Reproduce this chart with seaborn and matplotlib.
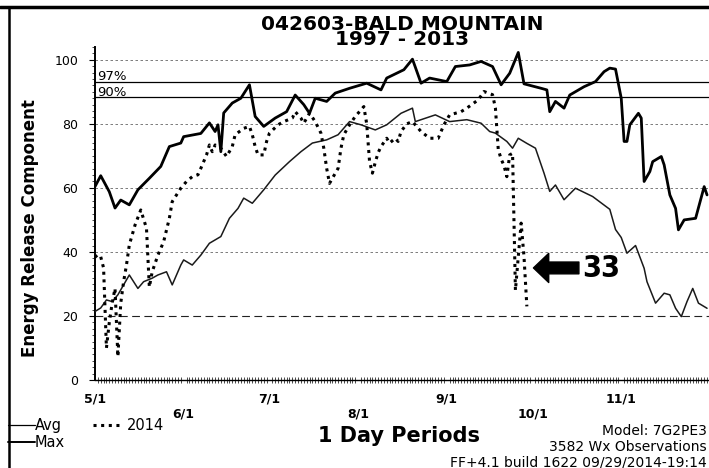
import matplotlib
matplotlib.use("Agg")
import matplotlib.pyplot as plt
from matplotlib.lines import Line2D
from matplotlib.ticker import MultipleLocator
import seaborn as sns

# days counted from 5/1, ERC values
max_days = [0, 2, 5, 7, 9, 12, 15, 19, 23, 26, 30, 31, 37, 40, 42, 43, 44, 45, 48, 51,
            54, 56, 59, 63, 67, 70, 73, 75, 77, 81, 84, 89, 95, 100, 102, 108, 111, 114, 117, 123,
            126, 131, 135, 139, 142, 145, 148, 150, 156, 158, 159, 161, 164, 166, 171, 175, 178, 180, 182, 184,
            185, 186, 187, 190, 191, 192, 194, 195, 198, 199, 201, 203, 204, 206, 210, 213, 214]
max_erc = [60.4, 63.8, 58.8, 53.7, 56.2, 54.7, 59.4, 63, 66.7, 72.9, 74, 76, 77, 80.3, 77.6, 79.7, 71.3, 83.4, 86.5, 88,
           92.2, 82.3, 79.2, 81.8, 83.8, 89, 86, 83.3, 88, 87, 89.6, 91.1, 92.7, 90.6, 94.3, 96.9, 100.2, 92.7, 94.3, 93.2,
           97.9, 98.4, 99.5, 97.9, 92.2, 95.8, 102.3, 92.5, 91.1, 90.6, 83.8, 87, 84.9, 89, 91.6, 93.2, 96.3, 97.4, 97.1, 88,
           74.5, 74.5, 79.7, 83.3, 81.8, 62, 65.1, 68.2, 69.8, 67.2, 57.8, 53.6, 46.9, 50, 50.5, 60.4, 57.8]

avg_days = [0, 2, 4, 6, 8, 10, 12, 15, 17, 20, 22, 25, 27, 30, 31, 34, 37, 40, 44, 47,
            50, 52, 55, 59, 63, 68, 72, 76, 81, 85, 89, 93, 98, 102, 107, 111, 112, 119, 124, 130,
            135, 138, 140, 144, 146, 148, 151, 154, 157, 159, 161, 164, 168, 174, 180, 182, 184, 186, 189, 192,
            193, 196, 199, 201, 203, 205, 207, 209, 211, 214]
avg_erc = [21.4, 22.5, 25, 24.5, 26.6, 29.7, 32.8, 28.6, 30.7, 31.8, 32.8, 33.8, 29.7, 35.9, 37.5, 35.9, 39, 42.7, 44.8, 50.5,
           53.6, 56.8, 55.2, 59.4, 64, 68.2, 71.3, 74, 75, 76.6, 80.7, 79.7, 78.1, 79.7, 83.3, 84.9, 80.7, 82.8, 80.7, 81.3,
           80.2, 77.6, 77.1, 74.5, 72.4, 75.5, 73.9, 72.4, 64.6, 58.9, 60.9, 56.3, 59.9, 57.3, 53.3, 47, 44.5, 39.6, 42, 34.9,
           30.7, 24, 27.1, 26.6, 22.4, 19.8, 24.5, 28.6, 24, 22.4]

y2014_days = [0, 1, 2, 3, 4, 5, 6, 7, 8, 9, 10, 11, 12, 14, 16, 18, 19, 20, 22, 24,
              26, 27, 30, 32, 34, 36, 37, 39, 40, 41, 42, 44, 46, 48, 49, 52, 54, 55, 56, 57,
              59, 60, 61, 64, 66, 69, 70, 72, 73, 75, 77, 79, 80, 81, 82, 83, 85, 86, 87, 89,
              91, 94, 95, 96, 97, 98, 99, 100, 102, 103, 105, 106, 107, 109, 111, 114, 117, 120, 122, 124,
              128, 130, 134, 136, 139, 140, 141, 142, 143, 144, 145, 146, 147, 149, 150, 151]
y2014_erc = [39, 38, 38.5, 35, 10, 18, 24, 28.6, 7.3, 24, 30.7, 35.9, 42.2, 48.4, 53.1, 47.4, 29, 33.8, 39, 43.2,
             50.5, 55.7, 59.9, 62, 63.5, 64.1, 66.1, 70.3, 73.4, 71.3, 73.4, 72.4, 69.8, 72.9, 76.6, 78.6, 79.2, 76.6, 72.9, 70.3,
             70.3, 74.5, 77.1, 79.7, 80.7, 81.8, 83.8, 81.8, 80.2, 83.3, 80.7, 77.1, 72.4, 66.1, 61.4, 63, 66.1, 72.4, 76.6, 79.7,
             82.3, 85.4, 80, 68.2, 64.6, 68, 71, 72.9, 75.5, 74, 75.5, 74.5, 77.6, 80, 80.7, 77.6, 75.5, 75.5, 79.7, 82.8,
             83.8, 84.9, 87.5, 90.1, 89.1, 85, 72, 69, 67, 63.5, 70.3, 70.8, 28, 49, 38.5, 23]

month_days = [0, 31, 61, 92, 123, 153, 184]
month_labels = ['5/1', '6/1', '7/1', '8/1', '9/1', '10/1', '11/1']
pct_levels = [93.1, 88.3]
pct_labels = ['97%', '90%']
current_erc = '33'

sns.set_style('white')
plt.rcParams['font.family'] = ['DejaVu Sans']
plt.rcParams['text.color'] = 'black'
plt.rcParams['xtick.color'] = 'black'
plt.rcParams['ytick.color'] = 'black'
plt.rcParams['axes.labelcolor'] = 'black'

W, H = 709, 468
fig = plt.figure(figsize=(W / 100, H / 100), dpi=100)
ax = fig.add_axes([95 / W, 88 / H, 614 / W, 333 / H])

# grid lines
for v in [40, 60, 80, 100]:
    ax.axhline(v, color='#666666', lw=0.6, ls=(0, (3, 3)), zorder=1)
ax.axhline(20, color='#222222', lw=0.8, ls=(0, (7, 4)), zorder=1)

for lev, lab in zip(pct_levels, pct_labels):
    ax.axhline(lev, color='black', lw=0.9, zorder=2)
    ax.text(0.7, lev + 0.5, lab, fontsize=9.5, ha='left', va='baseline')

sns.lineplot(x=avg_days, y=avg_erc, ax=ax, color='#1a1a1a', lw=1.1, zorder=3)
sns.lineplot(x=max_days, y=max_erc, ax=ax, color='black', lw=2.0, zorder=4)
sns.lineplot(x=y2014_days, y=y2014_erc, ax=ax, color='black', lw=2.2,
             linestyle=(0, (1, 1.5)), zorder=5)

ax.set_xlim(0, 614 / 2.86)
ax.set_ylim(0, 104)
ax.set_xlabel('')
ax.set_ylabel('')

ax.set_xticks(month_days)
ax.set_xticklabels([lab if i % 2 == 0 else '\n' + lab for i, lab in enumerate(month_labels)],
                   fontsize=9, fontweight='bold')
ax.xaxis.set_minor_locator(MultipleLocator(1))
ax.tick_params(axis='x', which='major', length=6, width=0.8, pad=6, direction='inout')
ax.tick_params(axis='x', which='minor', length=5, width=0.5, direction='inout', bottom=True)

ax.set_yticks(range(0, 101, 20))
ax.yaxis.set_minor_locator(MultipleLocator(2))
ax.tick_params(axis='y', which='major', labelsize=9, length=4, width=0.8, pad=8, left=True)
ax.tick_params(axis='y', which='minor', length=2, width=0.5, left=True)

for side in ['top', 'right']:
    ax.spines[side].set_visible(False)
ax.spines['left'].set_linewidth(1.4)
ax.spines['bottom'].set_linewidth(1.0)
ax.spines['left'].set_color('black')
ax.spines['bottom'].set_color('black')

# callout for the current value
ax.annotate('', xy=(153.3, 35), xytext=(169.2, 35),
            arrowprops=dict(arrowstyle='simple,head_length=1.1,head_width=2.1,tail_width=0.85',
                            color='black', shrinkA=0, shrinkB=0, mutation_scale=10))
ax.text(170.4, 32.2, current_erc, fontsize=22, fontweight='bold', fontstretch='condensed',
        family=['DejaVu Sans'], ha='left', va='baseline')

# titles and labels
fig.text(402 / W, 1 - 45 / H, '042603-BALD MOUNTAIN\n1997 - 2013', fontsize=14.5,
         fontweight='bold', ha='center', va='baseline', linespacing=0.72)
fig.text(30 / W, 1 - 228 / H, 'Energy Release Component', rotation=90, fontsize=12,
         fontweight='bold', ha='center', va='center')
fig.text(399 / W, 1 - 442 / H, '1 Day Periods', fontsize=15, fontweight='bold',
         ha='center', va='baseline')

fig.text(707 / W, 1 - 435 / H, 'Model: 7G2PE3', fontsize=10, ha='right', va='baseline')
fig.text(707 / W, 1 - 451 / H, '3582 Wx Observations', fontsize=10, ha='right', va='baseline')
fig.text(707 / W, 1 - 466 / H, 'FF+4.1 build 1622 09/29/2014-19:14', fontsize=10,
         ha='right', va='baseline')

# legend drawn by hand
fig.add_artist(Line2D([8 / W, 35 / W], [1 - 425 / H] * 2, color='black', lw=0.9))
fig.text(35 / W, 1 - 430 / H, 'Avg', fontsize=10.5, ha='left', va='baseline')
fig.add_artist(Line2D([8 / W, 35 / W], [1 - 442 / H] * 2, color='black', lw=1.4))
fig.text(35 / W, 1 - 447 / H, 'Max', fontsize=10.5, ha='left', va='baseline')
fig.add_artist(Line2D([93 / W, 122 / W], [1 - 425 / H] * 2, color='black', lw=2.2,
                      ls=(0, (1, 1.5))))
fig.text(127 / W, 1 - 430 / H, '2014', fontsize=10.5, ha='left', va='baseline')

# outer frame
fig.add_artist(Line2D([0, 1], [1 - 7 / H] * 2, color='black', lw=2.5))
fig.add_artist(Line2D([9 / W] * 2, [0, 1 - 7 / H], color='black', lw=1.8))

fig.savefig('out.png', dpi=100)
